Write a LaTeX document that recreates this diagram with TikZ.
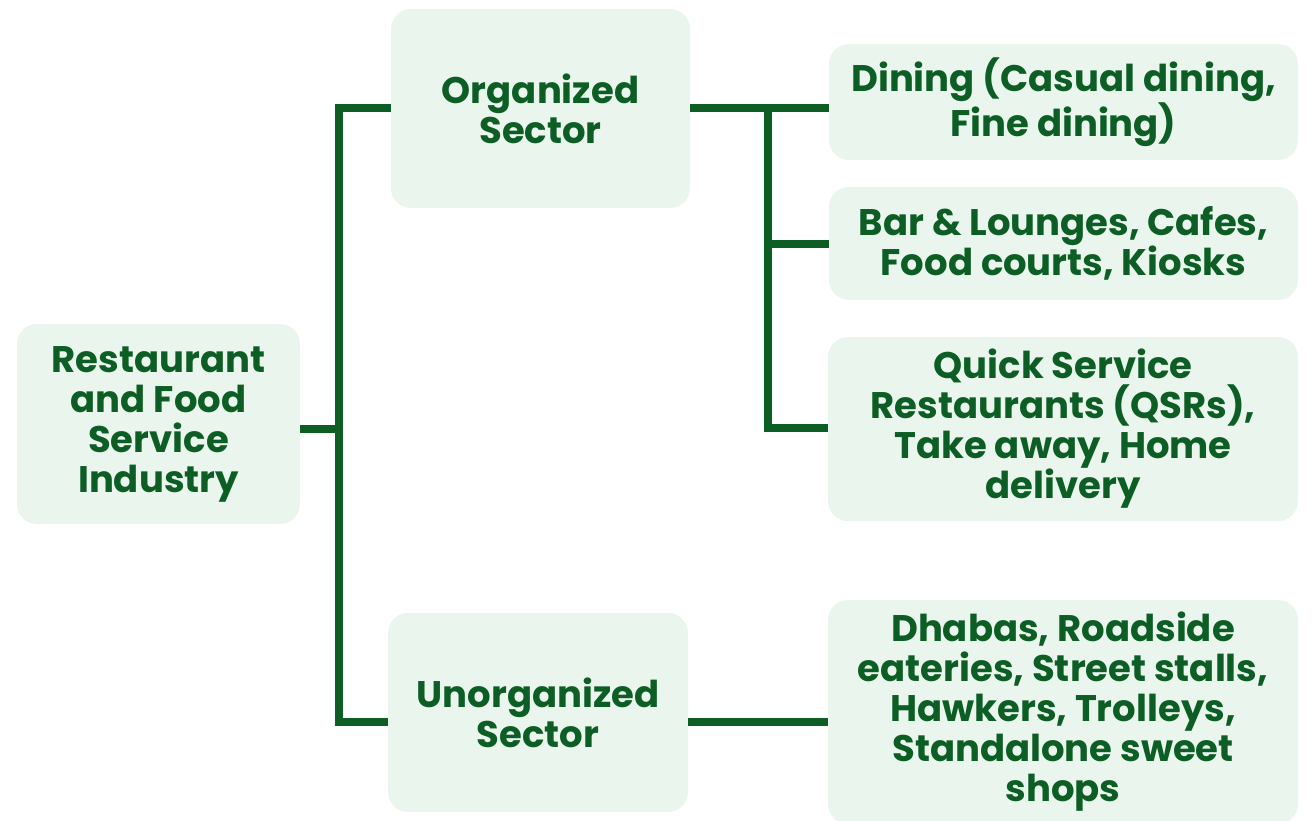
\documentclass[tikz,border=0pt]{standalone}
\usepackage{fontspec}
\setmainfont{Poppins}
\begin{document}
\begin{tikzpicture}[x=1pt,y=-1pt,
  box/.style={fill=boxfill, rounded corners=20pt, align=center, inner sep=0pt,
    text=leaf, font=\fontsize{37}{40}\selectfont\bfseries},
  conn/.style={draw=leaf, line width=8pt}]
\definecolor{boxfill}{RGB}{234,245,237}
\definecolor{leaf}{RGB}{12,94,37}
\useasboundingbox (0,0) rectangle (1315,820);

% category boxes
\node[box, minimum width=283pt, minimum height=200pt] (root) at (158.5,424)
  {Restaurant\\and Food\\Service\\Industry};
\node[box, minimum width=299pt, minimum height=199pt] (org) at (540.5,108.5)
  {Organized\\Sector};
\node[box, minimum width=300pt, minimum height=199pt] (unorg) at (538,712.5)
  {Unorganized\\Sector};

% leaf boxes
\node[box, minimum width=469pt, minimum height=116pt] (dining) at (1063.5,102)
  {Dining (Casual dining,\\Fine dining)};
\node[box, minimum width=469pt, minimum height=113pt] (bar) at (1063.5,243.5)
  {Bar \& Lounges, Cafes,\\Food courts, Kiosks};
\node[box, minimum width=470pt, minimum height=184pt] (qsr) at (1063,429)
  {Quick Service\\Restaurants (QSRs),\\Take away, Home\\delivery};
\node[box, minimum width=470pt, minimum height=224pt] (dhabas) at (1063,712)
  {Dhabas, Roadside\\eateries, Street stalls,\\Hawkers, Trolleys,\\Standalone sweet\\shops};

% junction points
\coordinate (jroot) at (339,429);
\coordinate (jtop) at (339,108);
\coordinate (jbot) at (339,722);
\coordinate (stop) at (768,108);
\coordinate (sbar) at (768,244);
\coordinate (sqsr) at (768,428);

% connectors
\draw[conn] (root.east |- jroot) -- (jroot);
\draw[conn] (org.west |- jtop) -- (jtop) -- (jbot) -- (unorg.west |- jbot);
\draw[conn] (org.east |- stop) -- (dining.west |- stop);
\draw[conn] (stop) -- (sqsr) -- (qsr.west |- sqsr);
\draw[conn] (sbar) -- (bar.west |- sbar);
\draw[conn] (unorg.east |- jbot) -- (dhabas.west |- jbot);
\end{tikzpicture}
\end{document}
